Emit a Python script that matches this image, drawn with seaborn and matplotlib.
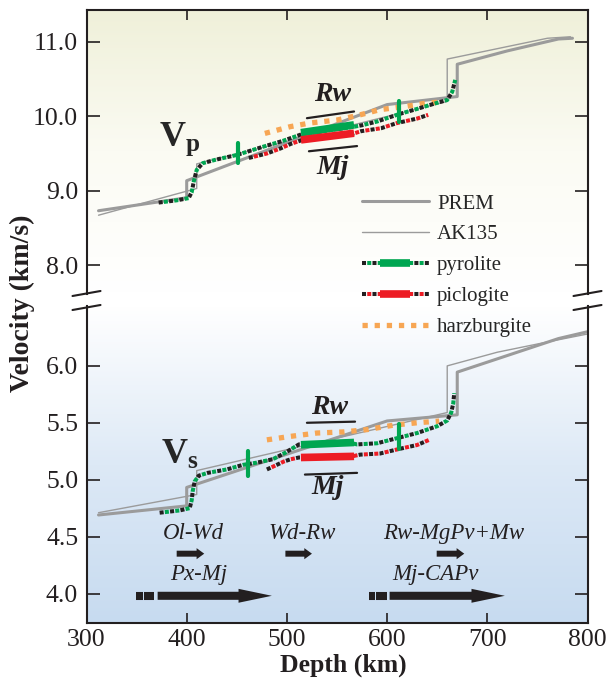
"""
Vp / Vs versus depth through the mantle transition zone
(PREM, AK135 and three mineral-physics compositions)
"""

import matplotlib
matplotlib.use("Agg")
import matplotlib.pyplot as plt
import numpy as np
import seaborn as sns
from matplotlib.lines import Line2D
from matplotlib.legend_handler import HandlerBase
from matplotlib.colors import LinearSegmentedColormap
from matplotlib.ticker import FormatStrFormatter

# ---- reference models (depth km, velocity km/s) ----
prem_depth_p = [312, 400, 400, 600, 670, 670, 720, 771, 785]
prem_vp = [8.73, 8.905, 9.134, 10.158, 10.266, 10.70, 10.88, 11.04, 11.05]
ak135_depth_p = [312, 410, 410, 660, 660, 710, 760, 783]
ak135_vp = [8.67, 9.03, 9.36, 10.20, 10.77, 10.91, 11.05, 11.07]

prem_depth_s = [312, 400, 400, 600, 670, 670, 720, 771, 800]
prem_vs = [4.69, 4.77, 4.932, 5.516, 5.570, 5.945, 6.091, 6.24, 6.30]
ak135_depth_s = [312, 410, 410, 660, 660, 710, 760, 800]
ak135_vs = [4.71, 4.87, 5.08, 5.59, 6.00, 6.12, 6.21, 6.28]

# ---- compositions, Vp ----
pyr_depth_p = [372, 390, 402, 405, 407, 410, 416, 430, 450, 476, 496, 515,
               567, 575, 590, 612, 630, 647, 660, 665, 668]
pyr_vp = [8.84, 8.87, 8.90, 8.98, 9.12, 9.28, 9.37, 9.42, 9.48, 9.59, 9.67, 9.76,
          9.86, 9.88, 9.93, 10.03, 10.10, 10.17, 10.22, 10.33, 10.49]
pic_depth_p = [462, 480, 494, 504, 515, 567, 574, 594, 610, 630, 641]
pic_vp = [9.44, 9.50, 9.57, 9.63, 9.68, 9.77, 9.80, 9.84, 9.91, 9.97, 10.02]
hz_depth_p = [478, 503, 523, 550, 573, 593, 617, 640, 652]
hz_vp = [9.77, 9.86, 9.91, 9.95, 10.02, 10.09, 10.13, 10.18, 10.19]

# ---- compositions, Vs ----
pyr_depth_s = [373, 383, 393, 403, 405, 406, 408, 412, 421, 440, 456, 470, 486, 498,
               512, 565, 570, 590, 610, 630, 650, 660, 664, 666, 667]
pyr_vs = [4.71, 4.72, 4.73, 4.75, 4.82, 4.90, 4.985, 5.035, 5.06, 5.09, 5.13, 5.15, 5.18, 5.235,
          5.31, 5.32, 5.31, 5.32, 5.365, 5.41, 5.47, 5.52, 5.59, 5.67, 5.76]
pic_depth_s = [480, 485, 497, 504, 512, 565, 573, 593, 612, 630, 642]
pic_vs = [5.09, 5.11, 5.16, 5.18, 5.195, 5.205, 5.22, 5.23, 5.27, 5.305, 5.35]
hz_depth_s = [480, 503, 530, 557, 580, 607, 630, 652]
hz_vs = [5.35, 5.38, 5.41, 5.42, 5.44, 5.48, 5.50, 5.515]

# Rw + Mj bands (thick segments)
band_depth = [514, 567]
pyr_band_vp = [9.78, 9.885]
pic_band_vp = [9.683, 9.773]
pyr_band_vs = [5.307, 5.327]
pic_band_vs = [5.195, 5.205]

# green transition marks on the pyrolite curves
mark_depth_p = [451, 612]
mark_vp = [9.505, 10.065]
mark_depth_s = [461, 612]
mark_vs = [5.14, 5.38]

# phase transitions drawn as arrows (depth km)
short_names = ["Ol-Wd", "Wd-Rw", "Rw-MgPv+Mw"]
short_start = [390, 498.5, 649.5]
short_end = [417.5, 525, 677]
long_names = ["Px-Mj", "Mj-CAPv"]
long_start = [371, 602.5]
long_end = [485, 717.5]
long_dash = [[(349.5, 356), (357.8, 367.5)], [(581.5, 587.5), (589, 599.5)]]

gray = "#9b9b9b"
ink = "#231f20"
green = "#00a651"
red = "#ed1c24"
orange = "#f7a654"
DOT_LW = 2.9
DOT = (1, 1.6)

sns.set_theme(style="ticks")
plt.rcParams["font.family"] = ["Liberation Serif", "DejaVu Serif"]
plt.rcParams["mathtext.fontset"] = "custom"
plt.rcParams["mathtext.rm"] = "Liberation Serif"
plt.rcParams["mathtext.bf"] = "Liberation Serif:bold"
plt.rcParams["mathtext.it"] = "Liberation Serif:italic"

W, H = 608, 684
fig = plt.figure(figsize=(W / 100, H / 100), dpi=100)
left, right = 86.5 / W, 587.5 / W
ax_p = fig.add_axes([left, 1 - 293.5 / H, right - left, (293.5 - 10) / H])
ax_s = fig.add_axes([left, 1 - 623 / H, right - left, (623 - 306) / H])


def shade(ax, colors):
    cmap = LinearSegmentedColormap.from_list("bg", colors)
    grad = np.linspace(0, 1, 256).reshape(-1, 1)
    ax.imshow(grad, cmap=cmap, aspect="auto", extent=[0, 1, 0, 1],
              transform=ax.transAxes, origin="lower", zorder=0)


def curve(ax, d, v, **kw):
    sns.lineplot(x=d, y=v, ax=ax, sort=False, estimator=None, legend=False, **kw)


def composite(ax, d, v, color):
    # two interleaved dotted lines: black underneath, colour in the gaps
    curve(ax, d, v, color=ink, lw=DOT_LW, linestyle=(0, DOT), zorder=3)
    curve(ax, d, v, color=color, lw=DOT_LW, linestyle=(1.3, DOT), zorder=3)


shade(ax_p, ["#ffffff", "#fbfbf3", "#eff0d9"])
shade(ax_s, ["#c7dbf0", "#dde9f6", "#ffffff"])

for ax, pd_, pv, ad, av in [(ax_p, prem_depth_p, prem_vp, ak135_depth_p, ak135_vp),
                            (ax_s, prem_depth_s, prem_vs, ak135_depth_s, ak135_vs)]:
    curve(ax, ad, av, color=gray, lw=1.0, zorder=2)
    curve(ax, pd_, pv, color=gray, lw=2.2, zorder=2)

# Vp compositions
curve(ax_p, hz_depth_p, hz_vp, color=orange, lw=3.8, linestyle=(0, (1, 1.3)), zorder=3)
composite(ax_p, pic_depth_p, pic_vp, red)
composite(ax_p, pyr_depth_p, pyr_vp, green)
curve(ax_p, band_depth, pyr_band_vp, color=green, lw=5.5, solid_capstyle="butt", zorder=4)
curve(ax_p, band_depth, pic_band_vp, color=red, lw=5.5, solid_capstyle="butt", zorder=4)
for d, v in zip(mark_depth_p, mark_vp):
    ax_p.plot([d, d], [v - 0.135, v + 0.135], color=green, lw=3, zorder=5)

# Vs compositions
curve(ax_s, hz_depth_s, hz_vs, color=orange, lw=3.8, linestyle=(0, (1, 1.3)), zorder=3)
composite(ax_s, pic_depth_s, pic_vs, red)
composite(ax_s, pyr_depth_s, pyr_vs, green)
curve(ax_s, band_depth, pyr_band_vs, color=green, lw=5.5, solid_capstyle="butt", zorder=4)
curve(ax_s, band_depth, pic_band_vs, color=red, lw=5.5, solid_capstyle="butt", zorder=4)
for d, v in zip(mark_depth_s, mark_vs):
    ax_s.plot([d, d], [v - 0.11, v + 0.11], color=green, lw=3, zorder=5)

# Rw / Mj labels
lab = dict(fontsize=20, fontweight="bold", fontstyle="italic", ha="center", va="center", color=ink)
ax_p.plot([520, 567], [9.975, 10.065], color=ink, lw=1.6, zorder=4)
ax_p.text(546, 10.29, "Rw", **lab)
ax_p.plot([522, 570], [9.53, 9.60], color=ink, lw=1.6, zorder=4)
ax_p.text(546, 9.31, "Mj", **lab)
ax_s.plot([520, 568], [5.50, 5.51], color=ink, lw=1.6, zorder=4)
ax_s.text(543, 5.63, "Rw", **lab)
ax_s.plot([518, 570], [5.045, 5.06], color=ink, lw=1.6, zorder=4)
ax_s.text(541, 4.93, "Mj", **lab)

ax_p.text(393, 9.69, r"$\mathbf{V}_{\mathbf{p}}$", fontsize=26, ha="center", va="center")
ax_s.text(393, 5.21, r"$\mathbf{V}_{\mathbf{s}}$", fontsize=26, ha="center", va="center")

# phase transition arrows
tl = dict(fontsize=16.5, fontstyle="italic", ha="center", va="center", color=ink)
for name, a, b in zip(short_names, short_start, short_end):
    ax_s.annotate("", xy=(b, 4.35), xytext=(a, 4.35),
                  arrowprops=dict(arrowstyle="simple,head_length=0.55,head_width=0.8,tail_width=0.43",
                                  fc=ink, ec="none", shrinkA=0, shrinkB=0, mutation_scale=10))
    ax_s.text((a + b) / 2 + 3, 4.53, name, **tl)
for name, a, b, dash in zip(long_names, long_start, long_end, long_dash):
    ax_s.annotate("", xy=(b, 3.98), xytext=(a, 3.98),
                  arrowprops=dict(arrowstyle="simple,head_length=2.4,head_width=1.0,tail_width=0.58",
                                  fc=ink, ec="none", shrinkA=0, shrinkB=0, mutation_scale=10))
    for s, e in dash:
        ax_s.plot([s, e], [3.98, 3.98], color=ink, lw=5.8, solid_capstyle="butt")
ax_s.text(412, 4.17, long_names[0], **tl)
ax_s.text(648, 4.17, long_names[1], **tl)

# axes styling
for ax in (ax_p, ax_s):
    ax.set_xlim(300, 800)
    ax.set_xticks(range(300, 801, 100))
    ax.yaxis.set_major_formatter(FormatStrFormatter("%.1f"))
    ax.tick_params(axis="y", direction="in", length=9.5, width=1.2, left=True, right=True,
                   labelsize=18.5, pad=6, colors=ink)
    ax.tick_params(axis="x", direction="in", length=7.5, width=1.2, labelsize=18.5, pad=4, colors=ink)
    for sp in ax.spines.values():
        sp.set_linewidth(1.5)
        sp.set_color(ink)
    ax.set_xlabel("")
    ax.set_ylabel("")

ax_p.set_ylim(7.617, 11.43)
ax_p.set_yticks([8.0, 9.0, 10.0, 11.0])
ax_p.tick_params(axis="x", top=True, bottom=False, labelbottom=False)
ax_p.spines["bottom"].set_visible(False)

ax_s.set_ylim(3.741, 6.526)
ax_s.set_yticks([4.0, 4.5, 5.0, 5.5, 6.0])
ax_s.tick_params(axis="x", top=False, bottom=True)
ax_s.spines["top"].set_visible(False)
ax_s.set_xlabel("Depth (km)", fontsize=18.5, fontweight="bold", labelpad=2, color=ink)
ax_s.xaxis.label.set_x((343 - 86.5) / 501)

fig.text(22 / W, 1 - 303 / H, "Velocity (km/s)", rotation=90, ha="center", va="center",
         fontsize=20, fontweight="bold", color=ink)

# axis break marks
for x in (86.5, 587.5):
    for y in (293.5, 307.5):
        fig.add_artist(Line2D([(x - 14) / W, (x + 14) / W], [1 - (y + 2.5) / H, 1 - (y - 2.5) / H],
                              transform=fig.transFigure, color=ink, lw=1.5))


class CompHandler(HandlerBase):
    def __init__(self, color):
        super().__init__()
        self.color = color

    def create_artists(self, legend, orig_handle, xdescent, ydescent, width, height, fontsize, trans):
        x0, x1 = -xdescent, -xdescent + width
        y = (height - ydescent) / 2
        blk = Line2D([x0, x1], [y, y], color=ink, lw=DOT_LW, linestyle=(0, DOT))
        col = Line2D([x0, x1], [y, y], color=self.color, lw=DOT_LW, linestyle=(1.3, DOT))
        bar = Line2D([x0 + 0.27 * width, x0 + 0.72 * width], [y, y], color=self.color, lw=5.5,
                     solid_capstyle="butt")
        for a in (blk, col, bar):
            a.set_transform(trans)
        return [blk, col, bar]


h_pyr = Line2D([], [], color=green)
h_pic = Line2D([], [], color=red)
handles = [Line2D([], [], color=gray, lw=2.2), Line2D([], [], color=gray, lw=1.0), h_pyr, h_pic,
           Line2D([], [], color=orange, lw=3.8, linestyle=(0, (1, 1.3)))]
labels = ["PREM", "AK135", "pyrolite", "piclogite", "harzburgite"]
fig.legend(handles, labels, handler_map={h_pyr: CompHandler(green), h_pic: CompHandler(red)},
           loc="upper left", bbox_to_anchor=(362 / W, 1 - 194 / H), frameon=False, fontsize=15,
           handlelength=3.2, handletextpad=0.4, labelspacing=0.54, borderpad=0, borderaxespad=0)

fig.savefig("out.png", dpi=100)
